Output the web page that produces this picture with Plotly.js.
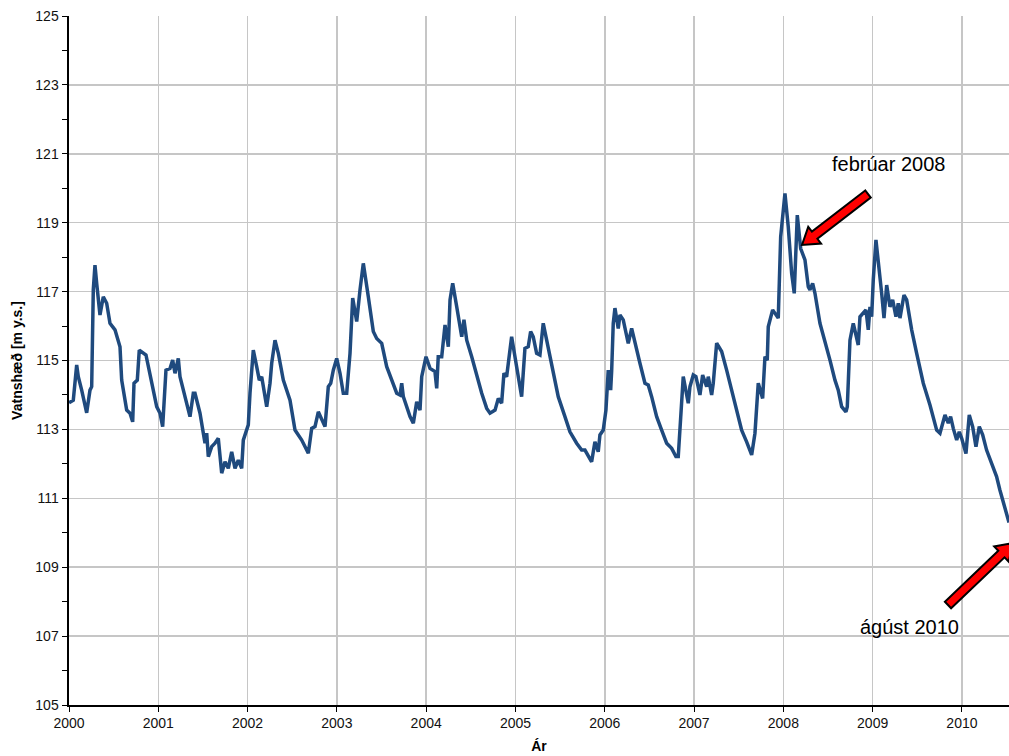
<!DOCTYPE html>
<html>
<head>
<meta charset="utf-8">
<script src="https://cdn.plot.ly/plotly-3.0.1.min.js"></script>
<style>html,body{margin:0;padding:0;background:#fff;}#chart{width:1009px;height:756px;}</style>
</head>
<body>
<div id="chart"></div>
<script>
const years = [2000.000,2000.048,2000.086,2000.104,2000.142,2000.198,2000.235,2000.254,2000.272,2000.291,2000.310,2000.347,2000.384,2000.422,2000.459,2000.515,2000.571,2000.590,2000.646,2000.683,2000.713,2000.728,2000.765,2000.787,2000.862,2000.907,2000.982,
2001.019,2001.049,2001.086,2001.131,2001.161,2001.187,2001.224,2001.243,2001.299,2001.355,2001.392,2001.411,2001.467,2001.504,2001.523,2001.542,2001.560,2001.598,2001.635,2001.672,2001.710,2001.747,2001.784,2001.822,2001.859,2001.896,2001.934,2001.952,2001.990,
2002.008,2002.027,2002.064,2002.102,2002.131,2002.158,2002.214,2002.251,2002.270,2002.307,2002.344,2002.400,2002.475,2002.531,2002.606,2002.662,2002.680,2002.718,2002.755,2002.792,2002.830,2002.867,2002.904,2002.931,2002.960,2002.998,
2003.035,2003.072,2003.110,2003.147,2003.177,2003.222,2003.259,2003.296,2003.352,2003.408,2003.446,2003.502,2003.558,2003.614,2003.670,2003.707,2003.726,2003.744,2003.819,2003.856,2003.894,2003.931,2003.950,2003.998,
2004.043,2004.098,2004.118,2004.135,2004.174,2004.211,2004.248,2004.267,2004.297,2004.342,2004.398,2004.423,2004.454,2004.510,2004.566,2004.622,2004.678,2004.715,2004.771,2004.808,2004.845,2004.871,2004.901,2004.957,
2005.013,2005.069,2005.106,2005.143,2005.170,2005.199,2005.237,2005.274,2005.311,2005.349,2005.405,2005.442,2005.479,2005.554,2005.610,2005.685,2005.741,2005.778,2005.815,2005.853,2005.890,2005.927,2005.946,2005.983,
2006.013,2006.039,2006.066,2006.077,2006.095,2006.114,2006.151,2006.170,2006.207,2006.237,2006.263,2006.301,2006.338,2006.394,2006.450,2006.487,2006.525,2006.581,2006.637,2006.693,2006.749,2006.797,2006.823,2006.842,2006.879,2006.935,2006.954,2006.991,
2007.021,2007.066,2007.096,2007.141,2007.159,2007.197,2007.215,2007.253,2007.309,2007.365,2007.421,2007.477,2007.533,2007.589,2007.645,2007.682,2007.719,2007.768,2007.794,2007.820,2007.831,2007.880,2007.917,2007.943,2007.970,
2008.018,2008.055,2008.093,2008.122,2008.156,2008.194,2008.242,2008.279,2008.298,2008.328,2008.354,2008.410,2008.466,2008.522,2008.578,2008.615,2008.653,2008.701,2008.716,2008.746,2008.783,2008.821,2008.839,2008.858,2008.895,2008.925,2008.951,2008.970,2008.989,
2009.007,2009.037,2009.063,2009.101,2009.127,2009.157,2009.194,2009.224,2009.261,2009.287,2009.306,2009.351,2009.381,2009.437,2009.493,2009.567,2009.642,2009.717,2009.754,2009.784,2009.810,2009.847,2009.873,2009.903,2009.941,2009.970,2009.997,
2010.045,2010.082,2010.120,2010.157,2010.194,2010.232,2010.276,2010.332,2010.388,2010.425,2010.470,2010.527];

const waterLevel = [113.77,113.85,114.87,114.53,114.14,113.48,114.14,114.24,117.05,117.77,117.24,116.32,116.85,116.66,116.08,115.89,115.40,114.43,113.56,113.47,113.22,114.34,114.43,115.30,115.16,114.63,113.66,
113.47,113.08,114.72,114.77,115.01,114.63,115.06,114.53,113.95,113.37,114.05,114.05,113.47,112.84,112.60,112.89,112.21,112.50,112.60,112.74,111.73,112.06,111.87,112.35,111.87,112.11,111.87,112.69,112.98,
113.13,114.05,115.30,114.82,114.43,114.53,113.66,114.34,114.92,115.59,115.21,114.43,113.85,112.98,112.69,112.40,112.31,113.03,113.08,113.51,113.27,113.08,114.24,114.34,114.72,115.06,
114.63,114.05,114.05,115.21,116.81,116.13,117.05,117.82,116.85,115.84,115.64,115.50,114.82,114.43,114.05,114.00,114.34,113.95,113.37,113.18,113.80,113.56,114.53,115.11,
114.77,114.68,114.19,115.11,115.11,116.03,115.40,116.76,117.24,116.56,115.69,116.18,115.59,115.11,114.53,114.05,113.61,113.47,113.56,113.90,113.76,114.63,114.53,115.69,
114.82,113.95,115.35,115.40,115.84,115.69,115.21,115.16,116.08,115.59,114.82,114.43,113.95,113.37,112.93,112.60,112.40,112.40,112.21,112.06,112.64,112.35,112.84,112.98,
113.56,114.72,114.14,114.68,116.08,116.52,115.93,116.32,116.18,115.74,115.50,115.93,115.50,114.92,114.34,114.29,113.95,113.37,112.98,112.60,112.45,112.21,112.21,113.08,114.53,113.76,114.24,114.58,
114.53,114.00,114.58,114.24,114.53,114.00,114.34,115.50,115.26,114.72,114.14,113.56,112.98,112.64,112.26,112.89,114.34,113.90,115.11,115.01,115.98,116.47,116.32,116.23,118.59,
119.85,118.88,117.53,116.95,119.22,118.25,117.92,117.14,117.05,117.24,116.95,116.08,115.59,115.01,114.43,114.14,113.66,113.51,113.66,115.59,116.08,115.59,115.45,116.27,116.37,116.47,115.89,116.56,116.27,
117.34,118.50,117.92,116.95,116.23,117.19,116.56,116.76,116.27,116.66,116.23,116.90,116.76,115.89,115.21,114.34,113.71,112.98,112.89,113.18,113.42,113.18,113.37,113.03,112.69,112.93,112.74,
112.30,113.42,113.08,112.50,113.08,112.84,112.40,112.02,111.63,111.24,110.80,110.30];

const xTickLabels = ['2000','2001','2002','2003','2004','2005','2006','2007','2008','2009','2010'];
const xTickVals = [2000,2001,2002,2003,2004,2005,2006,2007,2008,2009,2010];
const annotationTexts = ['febrúar 2008', 'ágúst 2010'];

// plot geometry (for converting arrow shape dimensions)
const W = 1009, H = 756, M = {l: 69, r: 0, t: 16, b: 51};
const xRange = [2000, 2010.527], yRange = [105, 125];
const pw = W - M.l - M.r, ph = H - M.t - M.b;
function toData(px, py) {
  return [xRange[0] + (px - M.l) / pw * (xRange[1] - xRange[0]),
          yRange[1] - (py - M.t) / ph * (yRange[1] - yRange[0])];
}
function arrowPath(tx, ty, hx, hy) {
  const dx = hx - tx, dy = hy - ty, L = Math.hypot(dx, dy);
  const ux = dx / L, uy = dy / L, nx = -uy, ny = ux;
  const w = 4.5, hw = 10.5, hl = 16;
  const bx = hx - ux * hl, by = hy - uy * hl;
  const pts = [
    [tx + nx * w, ty + ny * w], [bx + nx * w, by + ny * w], [bx + nx * hw, by + ny * hw],
    [hx, hy], [bx - nx * hw, by - ny * hw], [bx - nx * w, by - ny * w], [tx - nx * w, ty - ny * w]
  ].map(p => toData(p[0], p[1]));
  return 'M' + pts.map(p => p[0].toFixed(5) + ',' + p[1].toFixed(4)).join(' L') + ' Z';
}

const trace = {
  x: years, y: waterLevel, type: 'scatter', mode: 'lines',
  line: {color: '#1f4a7e', width: 3.5}, hoverinfo: 'x+y'
};

const font = "Arial, 'Liberation Sans', sans-serif";
const a1 = toData(888, 164), a2 = toData(909, 627);

const layout = {
  width: W, height: H,
  margin: M,
  paper_bgcolor: '#ffffff', plot_bgcolor: '#ffffff',
  showlegend: false,
  font: {family: font, color: '#000'},
  xaxis: {
    range: xRange, tickvals: xTickVals, ticktext: xTickLabels,
    showgrid: true, gridcolor: '#c6c6c6', gridwidth: 1.5,
    ticks: 'outside', ticklen: 5, tickcolor: '#000', tickwidth: 1,
    showline: true, linecolor: '#000', linewidth: 1.5,
    zeroline: false,
    tickfont: {size: 14, color: '#111', family: font},
    title: {text: 'Ár', font: {size: 14, color: '#000', family: font, weight: 'bold'}, standoff: 11}
  },
  yaxis: {
    range: yRange, tick0: 105, dtick: 2,
    showgrid: true, gridcolor: '#c6c6c6', gridwidth: 1.5,
    ticks: 'outside', ticklen: 5, tickcolor: '#000', tickwidth: 1,
    minor: {tick0: 105, dtick: 1, ticks: 'outside', ticklen: 5, tickcolor: '#000', tickwidth: 1, showgrid: false},
    showline: true, linecolor: '#000', linewidth: 2.5,
    zeroline: false,
    tickfont: {size: 14, color: '#111', family: font},
    title: {text: 'Vatnshæð [m y.s.]', font: {size: 14, color: '#000', family: font, weight: 'bold'}, standoff: 10}
  },
  shapes: [
    {type: 'path', xref: 'x', yref: 'y', path: arrowPath(868, 194, 802, 245),
     fillcolor: '#ff0000', line: {color: '#000', width: 2}, layer: 'above'},
    {type: 'path', xref: 'x', yref: 'y', path: arrowPath(948, 605, 1013, 543),
     fillcolor: '#ff0000', line: {color: '#000', width: 2}, layer: 'above'}
  ],
  annotations: [
    {x: a1[0], y: a1[1], xref: 'x', yref: 'y', text: annotationTexts[0], showarrow: false,
     font: {size: 20, color: '#000', family: font}},
    {x: a2[0], y: a2[1], xref: 'x', yref: 'y', text: annotationTexts[1], showarrow: false,
     font: {size: 20, color: '#000', family: font}}
  ]
};

Plotly.newPlot('chart', [trace], layout, {displayModeBar: false, staticPlot: true});
</script>
</body>
</html>
